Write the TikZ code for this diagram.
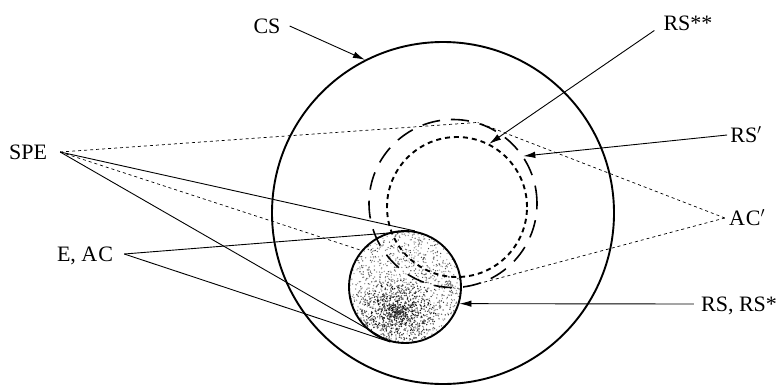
\documentclass[tikz,border=0pt]{standalone}
\usepackage{fontspec}
\setmainfont{Liberation Serif}
\usetikzlibrary{arrows.meta}
\begin{document}
\begin{tikzpicture}[x=1pt,y=-1pt,
  lbl/.style={font=\fontsize{22}{26}\selectfont, inner ysep=0pt, text height=15pt, text depth=0pt},
  ring/.style={circle, inner sep=0pt, minimum size=#1, draw},
  lead/.style={line width=0.9pt},
  arr/.style={line width=0.9pt, -{Latex[length=12pt,width=6.5pt]}},
  dots/.style={line width=0.7pt, dash pattern=on 3pt off 3pt}]
\useasboundingbox (0,0) rectangle (781,389);
% shading of the small circle
\begin{scope}
  \clip (405,287) circle (56pt);
  \pgfmathsetseed{7}
  \foreach \i in {1,...,1100}{
    \pgfmathsetmacro{\rr}{56*sqrt(rnd)}
    \pgfmathsetmacro{\aa}{360*rnd}
    \pgfmathsetmacro{\gg}{30+50*rnd}
    \fill[black!\gg] ({405+\rr*cos(\aa)},{287+\rr*sin(\aa)}) circle (0.7pt);
  }
  \foreach \i in {1,...,700}{
    \pgfmathsetmacro{\rr}{32*rnd}
    \pgfmathsetmacro{\aa}{360*rnd}
    \pgfmathsetmacro{\gg}{60+40*rnd}
    \fill[black!\gg] ({398+1.2*\rr*cos(\aa)},{312+\rr*sin(\aa)}) circle (0.75pt);
  }
\end{scope}
% circles
\node[ring=342pt, line width=1.9pt] (cs) at (443,213) {};
\node[ring=140pt, line width=1.9pt, dash pattern=on 5pt off 4pt] (rss) at (457,207) {};
\node[ring=168pt, line width=1.6pt, dash pattern=on 18pt off 11pt] (rsp) at (453,203.5) {};
\node[ring=112pt, line width=1.9pt] (es) at (405,287) {};
% labels
\node[lbl, inner xsep=9pt] (csl) at (267,26) {CS};
\node[lbl, inner xsep=13pt] (spe) at (28,152) {SPE};
\node[lbl, inner xsep=11pt] (eac) at (85,254) {E, A\kern1pt C};
\node[lbl, inner xsep=9pt] (rsss) at (688,23) {RS**};
\node[lbl, inner xsep=3pt] (rspl) at (746,135) {RS$'$};
\node[lbl, inner xsep=4pt] (acp) at (747,218) {A\kern1pt C$'$};
\node[lbl, inner xsep=7pt] (rsrs) at (739,304) {RS, RS*};
% connectors
\draw[arr] (csl.east) -- (cs.117.6);
\draw[arr] (rsss.base west) -- (rss.63.8);
\draw[arr] (rspl.west) -- (rsp.34);
\draw[arr] (rsrs.west) -- (es.-17.5);
\draw[dots] (spe.east) -- (rsp.73.4);
\draw[dots] (spe.east) -- (es.140.6);
\draw[lead] (spe.east) -- (es.80.2);
\draw[lead] (spe.east) -- (es.-105.3);
\draw[lead] (eac.east) -- (es.80.2);
\draw[lead] (eac.east) -- (es.-105.3);
\draw[dots] (acp.west) -- (rsp.73.4);
\draw[dots] (acp.west) -- (rsp.-83.8);
\end{tikzpicture}
\end{document}
